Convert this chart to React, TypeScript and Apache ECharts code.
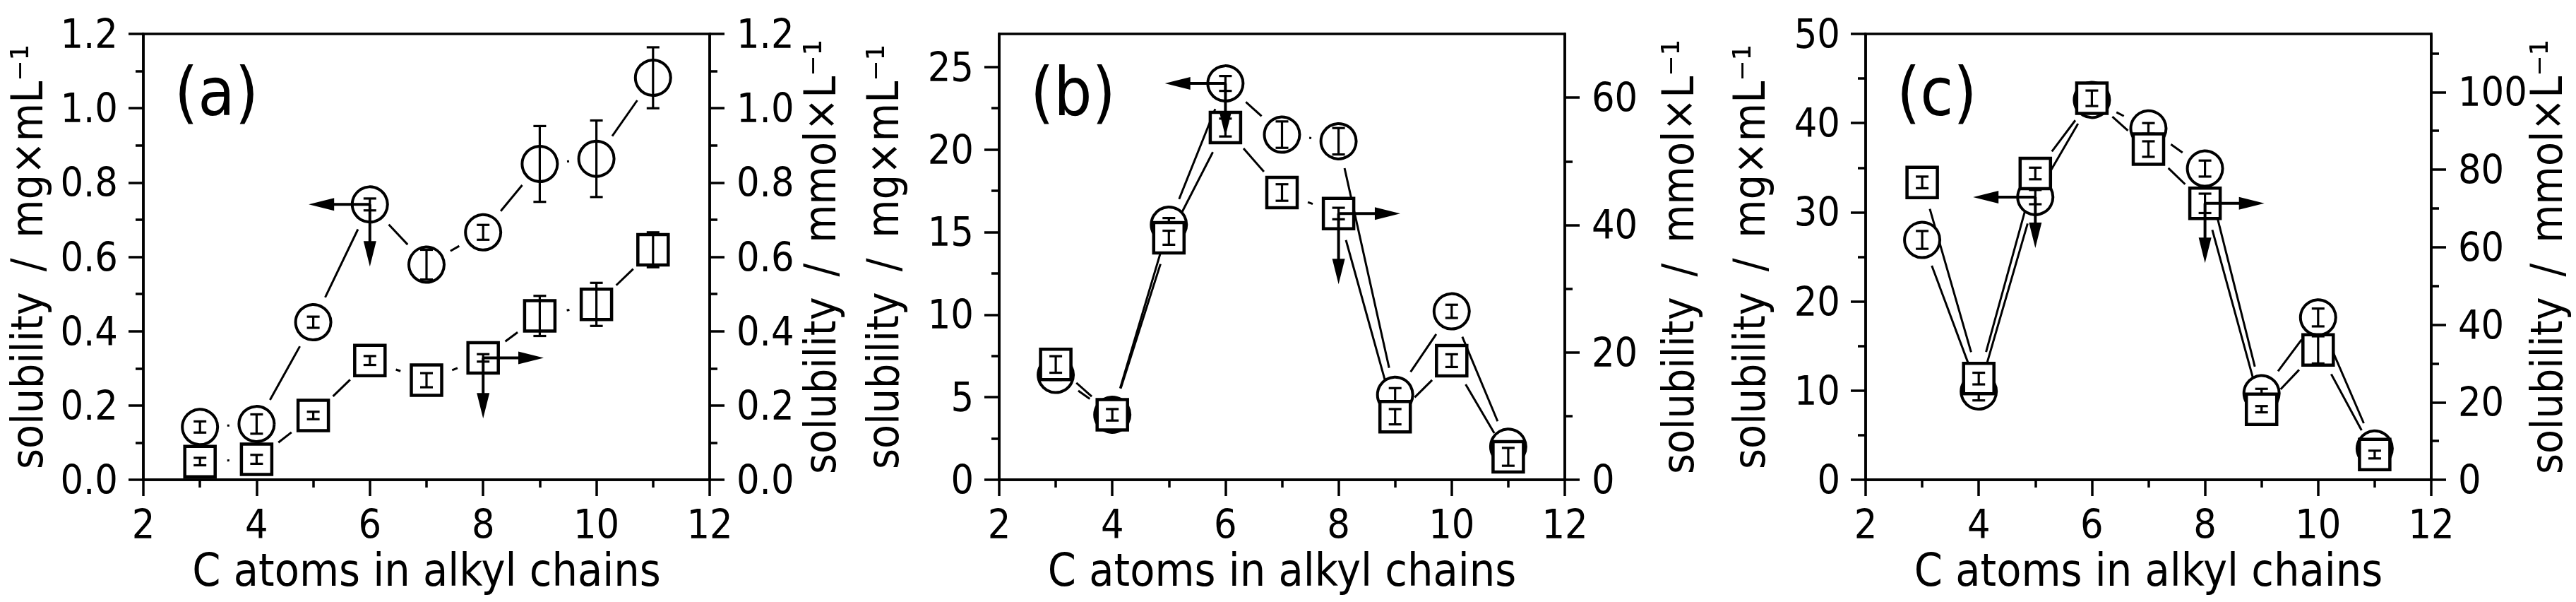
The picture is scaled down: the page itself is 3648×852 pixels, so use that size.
import React, { useEffect, useRef } from 'react';
import * as echarts from 'echarts';

// ---------------- data ----------------
const carbonAtoms = [3, 4, 5, 6, 7, 8, 9, 10, 11];
const xTicks = [2, 4, 6, 8, 10, 12];

// panel (a)
const circA = [0.142, 0.150, 0.424, 0.741, 0.579, 0.666, 0.850, 0.864, 1.082];
const circAErr = [0.015, 0.026, 0.015, 0.016, 0.040, 0.020, 0.102, 0.103, 0.082];
const sqA = [0.049, 0.055, 0.173, 0.321, 0.268, 0.328, 0.441, 0.472, 0.619];
const sqAErr = [0.010, 0.012, 0.010, 0.012, 0.019, 0.010, 0.054, 0.058, 0.047];
const leftTicksA = [0, 0.2, 0.4, 0.6, 0.8, 1.0, 1.2];
const rightTicksA = [0, 0.2, 0.4, 0.6, 0.8, 1.0, 1.2];
const arrowsCircA = [[6, 0.741, 4.92, 0.741], [6, 0.741, 6, 0.574]];
const arrowsSqA = [[8, 0.328, 9.07, 0.328], [8, 0.328, 8, 0.165]];

// panel (b)
const circB = [6.35, 3.94, 15.45, 24.0, 20.9, 20.5, 5.15, 10.2, 2.0];
const circBErr = [0.3, 0.3, 0.4, 0.45, 0.8, 0.8, 0.4, 0.4, 0.3];
const sqB = [18.1, 10.2, 38.0, 55.3, 45.1, 41.8, 9.9, 18.7, 3.6];
const sqBErr = [1.3, 0.9, 1.1, 1.4, 1.3, 0.9, 1.2, 1.0, 1.4];
const leftTicksB = [0, 5, 10, 15, 20, 25];
const rightTicksB = [0, 20, 40, 60];
const arrowsCircB = [[6, 24.0, 4.93, 24.0], [6, 24.0, 6, 20.8]];
const arrowsSqB = [[8, 41.8, 9.09, 41.8], [8, 41.8, 8, 30.7]];

// panel (c)
const circC = [26.9, 9.9, 31.7, 42.6, 39.4, 34.9, 9.7, 18.2, 3.5];
const circCErr = [1.0, 1.0, 0.8, 0.8, 0.6, 0.9, 0.5, 1.0, 0.5];
const sqC = [76.7, 26.1, 79.0, 98.4, 85.3, 71.3, 18.2, 33.5, 6.5];
const sqCErr = [1.5, 1.5, 1.5, 2.0, 2.0, 2.5, 0.8, 3.5, 1.0];
const leftTicksC = [0, 10, 20, 30, 40, 50];
const rightTicksC = [0, 20, 40, 60, 80, 100];
const arrowsCircC = [[5, 31.7, 3.9, 31.7], [5, 31.7, 5, 26.0]];
const arrowsSqC = [[8, 71.3, 9.05, 71.3], [8, 71.3, 8, 55.9]];

const panelLetters = ['(a)', '(b)', '(c)'];
const xTitle = 'C atoms in alkyl chains';
const leftTitle = 'solubility\u2009 / \u2009mg×mL⁻¹';
const rightTitle = 'solubility\u2009 / \u2009mmol×L⁻¹';

// ---------------- layout / style ----------------
const FONT = '"DejaVu Sans Condensed", "DejaVu Sans", sans-serif';
const TOP = 48;
const HEIGHT = 631;

const panels = [
  {
    left: 203, width: 802,
    circ: circA, circErr: circAErr, sq: sqA, sqErr: sqAErr,
    lMax: 1.2, lInt: 0.2, lTicks: leftTicksA, rMax: 1.2, rInt: 0.2, rTicks: rightTicksA,
    dec: 1, lTitleX: 38, rTitleX: 1161, arrC: arrowsCircA, arrS: arrowsSqA,
  },
  {
    left: 1415, width: 801,
    circ: circB, circErr: circBErr, sq: sqB, sqErr: sqBErr,
    lMax: 27, lInt: 5, lTicks: leftTicksB, rMax: 70, rInt: 20, rTicks: rightTicksB,
    dec: 0, lTitleX: 1250, rTitleX: 2376, arrC: arrowsCircB, arrS: arrowsSqB,
  },
  {
    left: 2642, width: 801,
    circ: circC, circErr: circCErr, sq: sqC, sqErr: sqCErr,
    lMax: 50, lInt: 10, lTicks: leftTicksC, rMax: 115, rInt: 20, rTicks: rightTicksC,
    dec: 0, lTitleX: 2477, rTitleX: 3606, arrC: arrowsCircC, arrS: arrowsSqC,
  },
];

const AXW = 3.5;
const lineStyle = { color: '#000', width: AXW };
const GAP = 39;

function pairs(vals: number[]) {
  return carbonAtoms.map((x, i) => [x, vals[i]]);
}
function segs(vals: number[]) {
  const out: number[][] = [];
  for (let i = 0; i < carbonAtoms.length - 1; i++) {
    out.push([carbonAtoms[i], vals[i], carbonAtoms[i + 1], vals[i + 1]]);
  }
  return out;
}
function errs(vals: number[], e: number[]) {
  return carbonAtoms.map((x, i) => [x, vals[i], e[i]]);
}

const renderSeg = (params: any, api: any) => {
  const p0 = api.coord([api.value(0), api.value(1)]);
  const p1 = api.coord([api.value(2), api.value(3)]);
  const dx = p1[0] - p0[0];
  const dy = p1[1] - p0[1];
  const L = Math.hypot(dx, dy);
  if (L <= 2 * GAP - 2) return null;
  const ux = dx / L;
  const uy = dy / L;
  const g = Math.min(GAP, L / 2 - 1.5);
  return {
    type: 'line',
    shape: { x1: p0[0] + ux * g, y1: p0[1] + uy * g, x2: p1[0] - ux * g, y2: p1[1] - uy * g },
    style: { stroke: '#000', lineWidth: 3 },
  };
};

const renderErr = (params: any, api: any) => {
  const x = api.value(0);
  const y = api.value(1);
  const e = api.value(2);
  const top = api.coord([x, y + e]);
  const bot = api.coord([x, y - e]);
  const cw = 9;
  const st = { stroke: '#000', lineWidth: 3.2 };
  return {
    type: 'group',
    children: [
      { type: 'line', shape: { x1: top[0], y1: top[1], x2: bot[0], y2: bot[1] }, style: st },
      { type: 'line', shape: { x1: top[0] - cw, y1: top[1], x2: top[0] + cw, y2: top[1] }, style: st },
      { type: 'line', shape: { x1: bot[0] - cw, y1: bot[1], x2: bot[0] + cw, y2: bot[1] }, style: st },
    ],
  };
};

const renderArrow = (params: any, api: any) => {
  const p0 = api.coord([api.value(0), api.value(1)]);
  const p1 = api.coord([api.value(2), api.value(3)]);
  const dx = p1[0] - p0[0];
  const dy = p1[1] - p0[1];
  const L = Math.hypot(dx, dy);
  const ux = dx / L;
  const uy = dy / L;
  const HL = 36;
  const HW = 9;
  const bx = p1[0] - ux * HL;
  const by = p1[1] - uy * HL;
  return {
    type: 'group',
    children: [
      { type: 'line', shape: { x1: p0[0], y1: p0[1], x2: bx + ux * 2, y2: by + uy * 2 }, style: { stroke: '#000', lineWidth: 4 } },
      {
        type: 'polygon',
        shape: { points: [[p1[0], p1[1]], [bx - uy * HW, by + ux * HW], [bx + uy * HW, by - ux * HW]] },
        style: { fill: '#000' },
      },
    ],
  };
};

function buildOption() {
  const grid: any[] = [];
  const xAxis: any[] = [];
  const yAxis: any[] = [];
  const series: any[] = [];
  const graphic: any[] = [];
  const titleFont = `62px ${FONT}`;
  const midY = TOP + HEIGHT / 2;

  panels.forEach((p, i) => {
    grid.push({
      left: p.left, top: TOP, width: p.width, height: HEIGHT,
      show: true, borderColor: '#000', borderWidth: AXW, backgroundColor: 'transparent',
      outerBoundsMode: 'none', containLabel: false,
    });
    xAxis.push({
      gridIndex: i, type: 'value', min: 2, max: 12, interval: 2,
      axisLine: { show: true, onZero: false, lineStyle },
      axisTick: { show: true, length: 23, lineStyle, customValues: xTicks },
      minorTick: { show: true, splitNumber: 2, length: 11, lineStyle },
      splitLine: { show: false }, minorSplitLine: { show: false },
      axisLabel: { color: '#000', fontSize: 57, fontFamily: FONT, margin: 34, customValues: xTicks },
      name: xTitle, nameLocation: 'middle', nameGap: 95,
      nameTextStyle: { color: '#000', fontSize: 64, fontFamily: FONT },
    });
    const fmt = (v: number) => v.toFixed(p.dec);
    yAxis.push({
      gridIndex: i, type: 'value', position: 'left', min: 0, max: p.lMax, interval: p.lInt,
      axisLine: { show: true, onZero: false, lineStyle },
      axisTick: { show: true, length: 21, lineStyle, customValues: p.lTicks },
      minorTick: { show: true, splitNumber: 2, length: 11, lineStyle },
      splitLine: { show: false }, minorSplitLine: { show: false },
      axisLabel: {
        color: '#000', fontSize: 57, fontFamily: FONT, margin: 36, formatter: fmt,
        customValues: p.lTicks, showMaxLabel: true, showMinLabel: true,
      },
    });
    yAxis.push({
      gridIndex: i, type: 'value', position: 'right', min: 0, max: p.rMax, interval: p.rInt,
      axisLine: { show: true, onZero: false, lineStyle },
      axisTick: { show: true, length: 21, lineStyle, customValues: p.rTicks },
      minorTick: { show: true, splitNumber: 2, length: 11, lineStyle },
      splitLine: { show: false }, minorSplitLine: { show: false },
      axisLabel: {
        color: '#000', fontSize: 57, fontFamily: FONT, margin: 38, formatter: fmt,
        customValues: p.rTicks, showMaxLabel: true, showMinLabel: true,
      },
    });
    const yl = 2 * i;
    const yr = 2 * i + 1;
    series.push(
      { type: 'custom', xAxisIndex: i, yAxisIndex: yl, renderItem: renderSeg, data: segs(p.circ), encode: { x: [0, 2], y: [1, 3] }, z: 2, silent: true },
      { type: 'custom', xAxisIndex: i, yAxisIndex: yr, renderItem: renderSeg, data: segs(p.sq), encode: { x: [0, 2], y: [1, 3] }, z: 2, silent: true },
      {
        type: 'scatter', xAxisIndex: i, yAxisIndex: yl, data: pairs(p.circ), symbol: 'circle', symbolSize: 50,
        itemStyle: { color: '#fff', borderColor: '#000', borderWidth: 4, opacity: 1 }, z: 3, silent: true,
      },
      { type: 'custom', xAxisIndex: i, yAxisIndex: yl, renderItem: renderErr, data: errs(p.circ, p.circErr), encode: { x: 0, y: 1 }, z: 4, silent: true },
      {
        type: 'scatter', xAxisIndex: i, yAxisIndex: yr, data: pairs(p.sq), symbol: 'rect', symbolSize: 43,
        itemStyle: { color: '#fff', borderColor: '#000', borderWidth: 4.5, opacity: 1 }, z: 5, silent: true,
      },
      { type: 'custom', xAxisIndex: i, yAxisIndex: yr, renderItem: renderErr, data: errs(p.sq, p.sqErr), encode: { x: 0, y: 1 }, z: 6, silent: true },
      { type: 'custom', xAxisIndex: i, yAxisIndex: yl, renderItem: renderArrow, data: p.arrC, encode: { x: [0, 2], y: [1, 3] }, z: 7, silent: true },
      { type: 'custom', xAxisIndex: i, yAxisIndex: yr, renderItem: renderArrow, data: p.arrS, encode: { x: [0, 2], y: [1, 3] }, z: 7, silent: true },
    );
    graphic.push(
      {
        type: 'text', left: p.left + 44, top: 82, z: 10,
        style: { text: panelLetters[i], font: `95px ${FONT}`, fill: '#000' },
      },
      {
        type: 'text', x: p.lTitleX, y: midY, rotation: Math.PI / 2, z: 10,
        style: { text: leftTitle, font: titleFont, fill: '#000', align: 'center', verticalAlign: 'middle' },
      },
      {
        type: 'text', x: p.rTitleX, y: midY, rotation: Math.PI / 2, z: 10,
        style: { text: rightTitle, font: titleFont, fill: '#000', align: 'center', verticalAlign: 'middle' },
      },
    );
  });

  return {
    animation: false,
    backgroundColor: '#fff',
    grid, xAxis, yAxis, series, graphic,
  };
}

export default function App() {
  const ref = useRef<HTMLDivElement>(null);
  useEffect(() => {
    document.body.style.margin = '0';
    if (!ref.current) return;
    const chart = echarts.init(ref.current, undefined, { renderer: 'svg' });
    chart.setOption(buildOption() as any);
    return () => chart.dispose();
  }, []);
  return <div ref={ref} style={{ width: 3648, height: 852 }} />;
}
